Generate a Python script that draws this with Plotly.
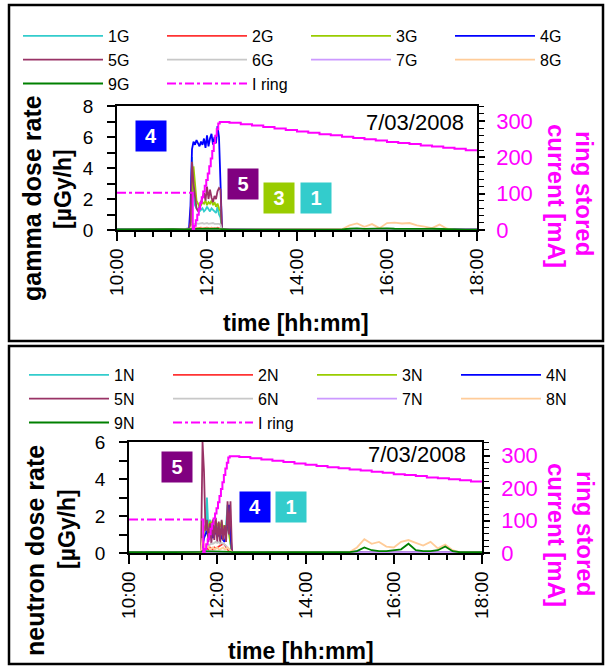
import plotly.graph_objects as go

# ---------------- data ----------------
TIMES = ["10:00", "10:15", "10:30", "10:45", "11:00", "11:15", "11:30",
         "11:36", "11:38", "11:40", "11:42", "11:44", "11:46", "11:48", "11:50",
         "11:52", "11:54", "11:56", "11:58", "12:00", "12:02", "12:04", "12:06",
         "12:08", "12:10", "12:12", "12:14", "12:16", "12:18", "12:20", "12:22",
         "12:30", "12:45", "13:00", "13:15", "13:30", "13:45", "14:00", "14:15",
         "14:30", "14:45", "15:00", "15:10", "15:20", "15:30", "15:40", "15:50",
         "16:00", "16:10", "16:20", "16:30", "16:40", "16:50", "17:00", "17:10",
         "17:20", "17:30", "17:45", "18:00"]

# gamma dose rate [uGy/h]
G1 = [0.03, 0.02, 0.04, 0.03, 0.02, 0.03, 0.04,
      0.05, 0.3, 4.7, 2.6, 1.6, 1.4, 1.3, 1.2, 1.3, 1.4, 1.2, 1.3, 1.5, 1.3, 1.2, 1.4,
      1.3, 1.2, 1.1, 1.5, 1.0, 0.8, 0.05, 0.02,
      0.03, 0.02, 0.03, 0.03, 0.02, 0.03, 0.03, 0.02, 0.03, 0.03, 0.02, 0.03, 0.03, 0.02,
      0.03, 0.03, 0.02, 0.03, 0.03, 0.02, 0.03, 0.03, 0.02, 0.03, 0.03, 0.02, 0.03, 0.03]
G2 = [0.02, 0.02, 0.03, 0.02, 0.02, 0.03, 0.02,
      0.02, 0.05, 0.3, 0.2, 0.15, 0.1, 0.12, 0.1, 0.15, 0.1, 0.12, 0.1, 0.15, 0.12, 0.1, 0.14,
      0.1, 0.12, 0.1, 0.15, 0.1, 0.08, 0.02, 0.02,
      0.02, 0.02, 0.02, 0.03, 0.02, 0.02, 0.02, 0.02, 0.03, 0.02, 0.02, 0.02, 0.02, 0.02,
      0.02, 0.03, 0.02, 0.02, 0.02, 0.02, 0.02, 0.02, 0.03, 0.02, 0.02, 0.02, 0.02, 0.02]
G3 = [0.03, 0.03, 0.02, 0.03, 0.03, 0.02, 0.03,
      0.03, 0.2, 1.5, 4.1, 2.8, 1.9, 1.7, 1.5, 1.6, 1.8, 1.7, 1.9, 1.6, 1.8, 1.7, 1.9,
      1.6, 1.8, 1.5, 1.7, 1.4, 1.2, 0.05, 0.03,
      0.03, 0.03, 0.02, 0.03, 0.03, 0.03, 0.02, 0.03, 0.03, 0.03, 0.03, 0.03, 0.02, 0.03,
      0.03, 0.03, 0.03, 0.02, 0.03, 0.03, 0.03, 0.03, 0.03, 0.02, 0.03, 0.03, 0.03, 0.03]
G4 = [0.05, 0.06, 0.05, 0.04, 0.05, 0.06, 0.05,
      0.1, 1.6, 5.2, 5.7, 5.5, 5.8, 5.6, 5.4, 5.7, 5.5, 5.9, 5.3, 6.1, 5.4, 5.9, 6.2,
      5.5, 6.0, 5.6, 6.7, 6.0, 3.0, 0.05, 0.05,
      0.05, 0.05, 0.04, 0.05, 0.05, 0.05, 0.04, 0.05, 0.05, 0.05, 0.05, 0.04, 0.05, 0.05,
      0.05, 0.05, 0.04, 0.05, 0.05, 0.05, 0.05, 0.04, 0.05, 0.05, 0.05, 0.05, 0.04, 0.05]
G5 = [0.03, 0.03, 0.03, 0.03, 0.03, 0.03, 0.03,
      0.05, 0.5, 4.4, 3.0, 2.2, 1.4, 1.2, 1.5, 1.9, 2.1, 2.4, 1.9, 2.8, 2.0, 2.6, 2.1,
      1.8, 2.2, 2.0, 2.5, 2.7, 2.6, 0.1, 0.05,
      0.03, 0.03, 0.03, 0.03, 0.03, 0.03, 0.03, 0.03, 0.03, 0.03, 0.03, 0.03, 0.03, 0.03,
      0.03, 0.03, 0.03, 0.03, 0.03, 0.03, 0.03, 0.03, 0.03, 0.03, 0.03, 0.03, 0.03, 0.03]
G6 = [0.02, 0.02, 0.02, 0.02, 0.02, 0.02, 0.02,
      0.02, 0.1, 0.3, 0.4, 0.4, 0.45, 0.4, 0.42, 0.4, 0.45, 0.4, 0.42, 0.45, 0.4, 0.42, 0.4,
      0.45, 0.4, 0.42, 0.4, 0.4, 0.35, 0.02, 0.02,
      0.02, 0.02, 0.02, 0.02, 0.02, 0.02, 0.02, 0.02, 0.02, 0.02, 0.02, 0.02, 0.02, 0.02,
      0.02, 0.02, 0.02, 0.02, 0.02, 0.02, 0.02, 0.02, 0.02, 0.02, 0.02, 0.02, 0.02, 0.02]
G7 = [0.03, 0.03, 0.03, 0.03, 0.03, 0.03, 0.03,
      0.03, 0.03, 0.05, 0.05, 0.04, 0.04, 0.05, 0.04, 0.04, 0.05, 0.04, 0.04, 0.05, 0.04, 0.04, 0.05,
      0.04, 0.04, 0.05, 0.04, 0.04, 0.03, 0.03, 0.03,
      0.03, 0.03, 0.03, 0.03, 0.03, 0.03, 0.03, 0.03, 0.03, 0.03, 0.03, 0.03, 0.03, 0.03,
      0.03, 0.03, 0.03, 0.03, 0.03, 0.03, 0.03, 0.03, 0.03, 0.03, 0.03, 0.03, 0.03, 0.03]
G8 = [0.02, 0.02, 0.02, 0.02, 0.02, 0.02, 0.02,
      0.02, 0.05, 0.2, 0.15, 0.1, 0.1, 0.12, 0.1, 0.1, 0.12, 0.1, 0.1, 0.12, 0.1, 0.1, 0.12,
      0.1, 0.1, 0.12, 0.1, 0.1, 0.08, 0.02, 0.02,
      0.03, 0.03, 0.03, 0.03, 0.03, 0.03, 0.03, 0.03, 0.03, 0.03, 0.05, 0.3, 0.42, 0.2,
      0.38, 0.12, 0.45, 0.48, 0.42, 0.45, 0.3, 0.22, 0.12, 0.35, 0.08, 0.03, 0.03, 0.03]
G9 = [0.04, 0.05, 0.04, 0.05, 0.04, 0.05, 0.04,
      0.05, 0.06, 0.1, 0.08, 0.07, 0.08, 0.07, 0.08, 0.07, 0.08, 0.07, 0.08, 0.07, 0.08, 0.07, 0.08,
      0.07, 0.08, 0.07, 0.08, 0.07, 0.06, 0.05, 0.04,
      0.02, 0.02, 0.02, 0.02, 0.02, 0.02, 0.02, 0.02, 0.02, 0.02, 0.04, 0.08, 0.1, 0.07,
      0.09, 0.08, 0.1, 0.08, 0.07, 0.09, 0.08, 0.07, 0.08, 0.06, 0.05, 0.02, 0.02, 0.02]

# neutron dose rate [uGy/h]
N1 = [0.02, 0.03, 0.02, 0.02, 0.03, 0.02, 0.02,
      0.0, 0.05, 0.5, 1.0, 1.0, 3.0, 1.2, 1.8, 1.4, 1.6, 1.3, 1.5, 1.2, 1.6, 1.1, 1.4,
      1.0, 1.3, 1.5, 2.6, 1.2, 0.5, 0.05, 0.02,
      0.02, 0.03, 0.02, 0.02, 0.02, 0.03, 0.02, 0.02, 0.02, 0.03, 0.02, 0.02, 0.03, 0.02,
      0.02, 0.02, 0.03, 0.02, 0.02, 0.02, 0.03, 0.02, 0.02, 0.02, 0.03, 0.02, 0.02, 0.05]
N2 = [0.02, 0.05, 0.02, 0.02, 0.02, 0.06, 0.02,
      0.02, 0.05, 0.2, 0.3, 0.2, 0.25, 0.2, 0.3, 0.25, 0.2, 0.3, 0.25, 0.3, 0.35, 0.4, 0.45,
      0.5, 0.45, 0.3, 0.2, 0.1, 0.05, 0.02, 0.02,
      0.02, 0.02, 0.05, 0.02, 0.02, 0.02, 0.02, 0.02, 0.02, 0.02, 0.02, 0.02, 0.02, 0.02,
      0.02, 0.02, 0.02, 0.02, 0.02, 0.02, 0.02, 0.02, 0.02, 0.02, 0.02, 0.02, 0.05, 0.02]
N3 = [0.02, 0.02, 0.02, 0.02, 0.02, 0.02, 0.02,
      0.0, 0.05, 0.8, 1.2, 1.5, 1.6, 1.4, 1.7, 1.5, 1.8, 1.6, 1.7, 1.5, 1.6, 1.4, 1.7,
      1.3, 1.5, 1.2, 1.4, 1.0, 0.4, 0.05, 0.0,
      0.02, 0.02, 0.02, 0.02, 0.02, 0.02, 0.04, 0.02, 0.02, 0.02, 0.02, 0.02, 0.02, 0.02,
      0.02, 0.02, 0.02, 0.02, 0.02, 0.02, 0.02, 0.02, 0.02, 0.02, 0.02, 0.02, 0.02, 0.02]
N4 = [0.05, 0.03, 0.06, 0.03, 0.05, 0.03, 0.06,
      0.05, 0.05, 0.3, 0.8, 1.0, 1.2, 0.9, 1.1, 1.3, 0.8, 1.0, 1.2, 1.3, 0.9, 1.1, 0.8,
      0.7, 0.6, 1.0, 2.0, 2.6, 1.0, 0.05, 0.05,
      0.03, 0.05, 0.03, 0.06, 0.03, 0.05, 0.03, 0.06, 0.03, 0.05, 0.03, 0.08, 0.03, 0.05,
      0.03, 0.06, 0.03, 0.05, 0.03, 0.06, 0.03, 0.05, 0.03, 0.06, 0.03, 0.05, 0.03, 0.06]
N5 = [0.03, 0.03, 0.03, 0.03, 0.03, 0.03, 0.03,
      0.05, 0.1, 6.0, 4.4, 1.2, 1.8, 0.6, 1.6, 0.5, 1.8, 0.7, 1.9, 0.6, 1.7, 0.5, 1.8,
      0.7, 1.5, 0.6, 2.8, 1.0, 2.8, 0.1, 0.05,
      0.03, 0.03, 0.03, 0.03, 0.03, 0.03, 0.03, 0.03, 0.03, 0.03, 0.03, 0.03, 0.03, 0.03,
      0.03, 0.03, 0.03, 0.03, 0.03, 0.03, 0.03, 0.03, 0.03, 0.03, 0.03, 0.03, 0.03, 0.03]
N6 = [0.02, 0.02, 0.02, 0.02, 0.02, 0.02, 0.02,
      0.0, 0.05, 0.2, 0.3, 0.35, 0.4, 0.4, 0.45, 0.5, 0.5, 0.55, 0.6, 0.55, 0.6, 0.5, 0.55,
      0.5, 0.45, 0.4, 0.3, 0.2, 0.1, 0.02, 0.0,
      0.02, 0.02, 0.02, 0.02, 0.02, 0.02, 0.02, 0.02, 0.02, 0.02, 0.02, 0.02, 0.02, 0.02,
      0.02, 0.02, 0.02, 0.02, 0.02, 0.02, 0.02, 0.02, 0.02, 0.02, 0.02, 0.02, 0.02, 0.02]
N7 = [0.03, 0.04, 0.03, 0.03, 0.04, 0.03, 0.03,
      0.03, 0.03, 0.05, 0.05, 0.04, 0.04, 0.05, 0.04, 0.04, 0.05, 0.04, 0.04, 0.05, 0.04, 0.04, 0.05,
      0.04, 0.04, 0.05, 0.04, 0.04, 0.03, 0.03, 0.03,
      0.03, 0.04, 0.03, 0.03, 0.04, 0.03, 0.03, 0.04, 0.03, 0.03, 0.04, 0.03, 0.03, 0.04,
      0.03, 0.03, 0.04, 0.03, 0.03, 0.04, 0.03, 0.03, 0.04, 0.03, 0.03, 0.04, 0.05, 0.04]
N8 = [0.02, 0.02, 0.02, 0.02, 0.02, 0.02, 0.02,
      0.02, 0.1, 0.8, 0.5, 0.3, 0.4, 0.3, 0.2, 0.25, 0.3, 0.2, 0.25, 0.3, 0.2, 0.2, 0.25,
      0.3, 0.2, 0.2, 0.3, 0.2, 0.1, 0.03, 0.02,
      0.03, 0.03, 0.03, 0.03, 0.03, 0.03, 0.03, 0.03, 0.03, 0.03, 0.05, 0.3, 0.75, 0.5,
      0.6, 0.35, 0.3, 0.6, 0.7, 0.55, 0.4, 0.6, 0.25, 0.45, 0.15, 0.03, 0.03, 0.03]
N9 = [0.05, 0.04, 0.05, 0.04, 0.05, 0.04, 0.05,
      0.05, 0.06, 0.1, 0.1, 0.08, 0.1, 0.09, 0.1, 0.08, 0.1, 0.09, 0.1, 0.08, 0.1, 0.09, 0.1,
      0.08, 0.1, 0.09, 0.1, 0.08, 0.06, 0.05, 0.04,
      0.04, 0.04, 0.04, 0.04, 0.04, 0.04, 0.04, 0.04, 0.04, 0.04, 0.05, 0.1, 0.3, 0.15,
      0.1, 0.1, 0.15, 0.2, 0.5, 0.15, 0.1, 0.1, 0.15, 0.35, 0.1, 0.04, 0.04, 0.04]

# ring stored current [mA]
IR_GAP_T = ["10:00", "11:40"]
IR_GAP = [103, 103]
IR_T = ["11:40", "11:41", "11:43", "11:45", "11:47", "11:49", "11:51", "11:53", "11:55",
        "11:57", "11:59", "12:01", "12:03", "12:05", "12:07", "12:09", "12:11", "12:13",
        "12:15", "12:17", "12:30", "12:45", "13:00", "13:15", "13:30", "13:45", "14:00",
        "14:15", "14:30", "14:45", "15:00", "15:15", "15:30", "15:45", "16:00", "16:15",
        "16:30", "16:45", "17:00", "17:15", "17:30", "17:45", "18:00"]
IR = [103, 0, 12, 27, 42, 58, 75, 90, 106,
      122, 138, 156, 176, 197, 218, 240, 260, 278,
      294, 298, 296, 292, 288, 284, 280, 276, 272,
      268, 264, 261, 257, 254, 250, 247, 243, 240,
      237, 233, 230, 227, 224, 220, 217]

TICK_HOURS = [10, 12, 14, 16, 18]
TICK_TEXT = ["10:00", "12:00", "14:00", "16:00", "18:00"]

G_NAMES = ["1G", "2G", "3G", "4G", "5G", "6G", "7G", "8G", "9G"]
N_NAMES = ["1N", "2N", "3N", "4N", "5N", "6N", "7N", "8N", "9N"]
COLORS = ["#33CCCC", "#FF3333", "#99CC00", "#0000FF", "#993366",
          "#C8C8C8", "#CC99FF", "#FFCC99", "#008000"]
MAGENTA = "#FF00FF"


def hrs(s):
    h, m = s.split(":")
    return int(h) + int(m) / 60.0


W, H = 610, 668
FONT = "Liberation Sans, Arial, sans-serif"


def px(x):
    return x / W


def py(y):
    return 1 - y / H


tx = [hrs(t) for t in TIMES]
fig = go.Figure()

panels = [
    (G_NAMES, [G1, G2, G3, G4, G5, G6, G7, G8, G9], "x", "y", "y3", "legend"),
    (N_NAMES, [N1, N2, N3, N4, N5, N6, N7, N8, N9], "x2", "y2", "y4", "legend2"),
]
for names, series, xa, ya, yr, leg in panels:
    for name, vals, col in zip(names, series, COLORS):
        fig.add_trace(go.Scatter(x=tx, y=vals, name=name, mode="lines",
                                 line=dict(color=col, width=1.8),
                                 xaxis=xa, yaxis=ya, legend=leg, hoverinfo="skip"))
    fig.add_trace(go.Scatter(x=[hrs(t) for t in IR_GAP_T], y=IR_GAP, name="I ring",
                             mode="lines", line=dict(color=MAGENTA, width=2, dash="dashdot"),
                             xaxis=xa, yaxis=yr, legend=leg, hoverinfo="skip"))
    fig.add_trace(go.Scatter(x=[hrs(t) for t in IR_T], y=IR, name="I ring", mode="lines",
                             line=dict(color=MAGENTA, width=2, shape="hv"), showlegend=False,
                             xaxis=xa, yaxis=yr, legend=leg, hoverinfo="skip"))


def xaxis_cfg(domain, anchor):
    return dict(domain=domain, anchor=anchor, range=[10, 18], tickmode="array",
                tickvals=TICK_HOURS, ticktext=TICK_TEXT, tickangle=-90,
                ticks="outside", ticklen=9, tickwidth=1.5, tickcolor="black",
                showline=True, linecolor="black", linewidth=1.5, mirror=True,
                showgrid=False, zeroline=False, ticklabelstandoff=0,
                tickfont=dict(size=19, color="black", family=FONT),
                minor=dict(dtick=0.4, tick0=0, ticks="outside", ticklen=5,
                           tickwidth=1.5, tickcolor="black", showgrid=False))


def yleft_cfg(domain, anchor, top):
    return dict(domain=domain, anchor=anchor, range=[0, top], dtick=2, tick0=0,
                ticks="outside", ticklen=8, tickwidth=1.5, tickcolor="black",
                showline=True, linecolor="black", linewidth=1.5, showgrid=False,
                zeroline=False, ticklabelstandoff=10,
                tickfont=dict(size=19, color="black", family=FONT),
                minor=dict(dtick=1, tick0=0, ticks="outside", ticklen=8,
                           tickwidth=1.5, tickcolor="black", showgrid=False))


def yright_cfg(over, anchor):
    return dict(overlaying=over, side="right", anchor=anchor, range=[0, 342],
                tickmode="array", tickvals=[0, 100, 200, 300],
                ticks="outside", ticklen=6, tickwidth=1.5, tickcolor="black",
                showline=True, linecolor="black", linewidth=1.5, showgrid=False,
                zeroline=False, ticklabelstandoff=7,
                tickfont=dict(size=22, color=MAGENTA, family=FONT),
                minor=dict(dtick=20, tick0=0, ticks="outside", ticklen=5,
                           tickwidth=1.2, tickcolor="black", showgrid=False))


def yinner_cfg(over, anchor):
    return dict(overlaying=over, side="right", anchor=anchor, range=[0, 342],
                tickmode="array", tickvals=[0, 100, 200, 300], ticks="inside",
                ticklen=10, tickwidth=1.5, tickcolor="black", showticklabels=False,
                showline=False, showgrid=False, zeroline=False)


legend_common = dict(orientation="h", xanchor="left", yanchor="top",
                     itemwidth=80, entrywidth=49, entrywidthmode="pixels",
                     font=dict(size=16, color="black", family=FONT),
                     bgcolor="rgba(0,0,0,0)", borderwidth=0, traceorder="normal",
                     tracegroupgap=0)

fig.update_layout(
    width=W, height=H, template="none",
    margin=dict(l=0, r=0, t=0, b=0, autoexpand=False),
    paper_bgcolor="white", plot_bgcolor="white",
    font=dict(family=FONT, color="black"),
    xaxis=xaxis_cfg([px(117), px(477)], "y"),
    yaxis=yleft_cfg([py(230), py(106)], "x", 8),
    yaxis3=yright_cfg("y", "x"),
    yaxis5=yinner_cfg("y", "x"),
    xaxis2=xaxis_cfg([px(129), px(482)], "y2"),
    yaxis2=yleft_cfg([py(553), py(442)], "x2", 6),
    yaxis4=yright_cfg("y2", "x2"),
    yaxis6=yinner_cfg("y2", "x2"),
    legend=dict(x=px(18), y=py(19), **legend_common),
    legend2=dict(x=px(24), y=py(358), **legend_common),
    showlegend=True,
)

# panel frames
for y0, y1 in [(341, 5), (664, 346)]:
    fig.add_shape(type="rect", xref="paper", yref="paper", x0=px(9), x1=px(603),
                  y0=py(y0), y1=py(y1), line=dict(color="black", width=2.5),
                  fillcolor="rgba(0,0,0,0)", layer="above")


def ann(text, x, y, size, color="black", angle=0, bold=True, xanchor="center"):
    fig.add_annotation(text=("<b>%s</b>" % text) if bold else text, x=px(x), y=py(y),
                       xref="paper", yref="paper", showarrow=False, textangle=angle,
                       xanchor=xanchor, yanchor="middle",
                       font=dict(size=size, color=color, family=FONT))


# axis titles
ann("time [hh:mm]", 296, 323, 23)
ann("time [hh:mm]", 301, 651, 23)
ann("gamma dose rate", 32, 198, 25, angle=-90)
ann("[µGy/h]", 63, 189, 23, angle=-90)
ann("neutron dose rate", 35, 551, 25, angle=-90)
ann("[µGy/h]", 67, 529, 23, angle=-90)
ann("ring stored", 585, 193, 24, color=MAGENTA, angle=90)
ann("current [mA]", 557, 196, 24, color=MAGENTA, angle=90)
ann("ring stored", 586, 533, 24, color=MAGENTA, angle=90)
ann("current [mA]", 557, 535, 24, color=MAGENTA, angle=90)

# date stamps
ann("7/03/2008", 466, 122, 22, bold=False, xanchor="right")
ann("7/03/2008", 468, 455, 22, bold=False, xanchor="right")

# detector label boxes (placed in data coordinates)
BOXES = [
    ("4", "#0000FF", 10.76, 6.06, "x", "y"),
    ("5", "#800080", 12.80, 2.97, "x", "y"),
    ("3", "#99CC00", 13.60, 2.06, "x", "y"),
    ("1", "#33CCCC", 14.42, 2.06, "x", "y"),
    ("5", "#800080", 11.09, 4.65, "x2", "y2"),
    ("4", "#0000FF", 12.86, 2.49, "x2", "y2"),
    ("1", "#33CCCC", 13.68, 2.49, "x2", "y2"),
]
for t, c, bx, by, xr, yr in BOXES:
    fig.add_annotation(text="<b>%s</b>" % t, x=bx, y=by, xref=xr, yref=yr,
                       showarrow=False, bgcolor=c, width=28, height=28, borderpad=1,
                       font=dict(size=20, color="white", family=FONT))

# remove the default page margin so the 610x668 figure fills the window exactly
fig.write_html("out.html", config={"displayModeBar": False},
               post_script="document.body.style.margin='0';document.body.style.overflow='hidden';")
